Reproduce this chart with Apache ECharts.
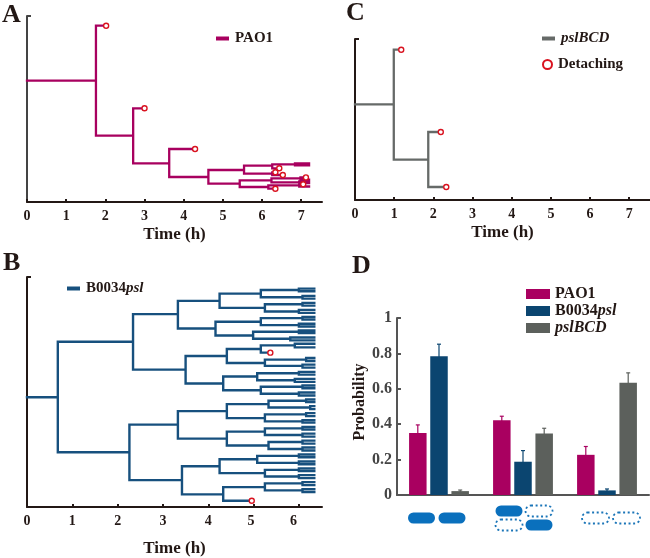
<!DOCTYPE html>
<html>
<head>
<meta charset="utf-8">
<style>
  html, body { margin: 0; padding: 0; background: #fff; }
  #chart { width: 650px; height: 558px; }
</style>
</head>
<body>
<div id="chart"></div>
<script src="https://cdn.jsdelivr.net/npm/echarts@6/dist/echarts.min.js"></script>
<script>
    // lineage trees: [division or end time (h), lineage position, ...daughters]
    var treeA = [1.76, 121.3,
      [2.02, 176.3],
      [2.71, 66.3,
        [3.0, 93.7],
        [3.63, 38.7,
          [4.29, 53],
          [4.63, 25,
            [5.54, 32,
              [6.26, 36.3,
                [6.84, 37.7, [7.2, 38.7], [7.2, 36.7]],
                [6.44, 33.7]],
              [6.26, 28.3, [6.34, 29.7], [6.53, 27]]],
            [5.43, 18.3,
              [6.24, 21.7,
                [6.98, 23.7, [7.12, 24.6], [7.2, 22.4]],
                [6.95, 19.7, [7.2, 20.6], [7.2, 18.8]]],
              [6.16, 15,
                [6.95, 16.7, [7.05, 17.7], [7.2, 15.5]],
                [6.34, 13.3]]]]]]];

    var treeB = [0.68, 110.3,
      [2.34, 166,
        [3.33, 193.7,
          [4.25, 207,
            [5.16, 214.3,
              [6.0, 218, [6.34, 219.3], [6.34, 216.7]],
              [6.08, 210.7, [6.34, 212], [6.34, 209.3]]],
            [5.25, 200,
              [6.08, 203.7, [6.34, 205], [6.34, 202.3]],
              [6.0, 196.3, [6.34, 198], [6.34, 195]]]],
          [4.16, 179.3,
            [5.16, 186,
              [6.08, 189.7, [6.34, 191], [6.34, 188.3]],
              [6.0, 182.7, [6.34, 184], [6.34, 181.3]]],
            [4.99, 172.3,
              [6.0, 176, [6.34, 177.3], [6.34, 174.7]],
              [5.81, 169, [6.34, 170.3], [6.34, 167.3]]]]],
        [3.5, 138,
          [4.41, 151.7,
            [5.16, 158.7,
              [5.91, 162.3, [6.34, 164], [6.34, 160.3]],
              [5.37, 155]],
            [5.25, 144.7,
              [6.16, 148, [6.34, 149.7], [6.34, 146.7]],
              [6.08, 141.7, [6.34, 143], [6.34, 140]]]],
          [4.33, 124,
            [5.08, 131,
              [6.0, 134.3, [6.34, 135.7], [6.34, 133]],
              [5.91, 127.3, [6.34, 128.7], [6.34, 125.7]]],
            [5.16, 117.3,
              [6.08, 120.7, [6.34, 122], [6.34, 119.3]],
              [6.0, 113.7, [6.34, 115], [6.34, 112]]]]]],
      [2.26, 55,
        [3.33, 82.7,
          [4.41, 96.3,
            [5.33, 103.3,
              [6.16, 106.7, [6.34, 108], [6.34, 105.3]],
              [6.25, 100, [6.34, 101.3], [6.34, 98.3]]],
            [5.25, 89.3,
              [6.16, 93, [6.34, 94.3], [6.34, 91.3]],
              [6.08, 86, [6.34, 87.3], [6.34, 84.7]]]],
          [4.41, 68.7,
            [5.25, 75.7,
              [6.08, 79, [6.34, 80.3], [6.34, 77.7]],
              [6.08, 72.3, [6.34, 73.7], [6.34, 70.7]]],
            [5.33, 61.7,
              [6.08, 65.3, [6.34, 66.7], [6.34, 63.7]],
              [6.08, 58.3, [6.34, 59.7], [6.34, 56.7]]]]],
        [3.42, 27,
          [4.25, 41,
            [5.08, 48,
              [6.0, 51.3, [6.34, 52.7], [6.34, 50]],
              [6.0, 44.3, [6.34, 45.7], [6.34, 43]]],
            [5.25, 34,
              [6.0, 37.3, [6.34, 38.7], [6.34, 36]],
              [6.0, 30.7, [6.34, 32], [6.34, 29]]]],
          [4.33, 12.7,
            [5.25, 20,
              [6.08, 23.7, [6.34, 25], [6.34, 22]],
              [6.08, 16.7, [6.34, 18], [6.34, 15]]],
            [4.96, 6.3]]]]];

    var treeC = [0.99, 95.7,
      [1.18, 150.3],
      [1.87, 40.3,
        [2.19, 68],
        [2.33, 13]]];

    // detaching events: [time (h), lineage position]
    var detachA = [[2.02, 176.3], [3.0, 93.7], [4.29, 53], [6.44, 33.7], [6.34, 29.7], [6.53, 27], [7.12, 24.6], [7.05, 17.7], [6.34, 13.3]];
    var detachB = [[5.37, 155], [4.96, 6.3]];
    var detachC = [[1.18, 150.3], [2.19, 68], [2.33, 13]];

    var hoursA = [0, 1, 2, 3, 4, 5, 6, 7];
    var hoursB = [0, 1, 2, 3, 4, 5, 6];

    // panel D
    var outcomes = ['both attached', 'one detached', 'both detached'];
    var strains = ['PAO1', 'B0034psl', 'pslBCD'];
    var probPAO1 = [0.35, 0.422, 0.227];
    var probB0034 = [0.784, 0.188, 0.026];
    var probBCD = [0.022, 0.347, 0.634];
    var topPAO1 = [0.396, 0.445, 0.274];
    var topB0034 = [0.852, 0.251, 0.034];
    var topBCD = [0.028, 0.377, 0.69];

    var serif = '"Liberation Serif", serif';
    var magenta = '#a8005f', navy = '#17507e', grey = '#666a68';
    var barColors = ['#a90060', '#0b4570', '#5c605c'];

    initChart();

    function walk(node, start, out) {
      var end = node[0], y = node[1], kids = node.slice(2);
      out.push([start, y], [end, y], [null, null]);
      if (kids.length) {
        out.push([end, kids[0][1]], [end, kids[kids.length - 1][1]], [null, null]);
        kids.forEach(function (k) { walk(k, end, out); });
      }
      return out;
    }

    function treeSeries(name, tree, color, index, width) {
      return {
        name: name,
        type: 'line',
        xAxisIndex: index,
        yAxisIndex: index,
        data: walk(tree, 0, []),
        symbol: 'none',
        connectNulls: false,
        animation: false,
        itemStyle: { color: color },
        lineStyle: { color: color, width: width, cap: 'square', join: 'miter' },
        z: 2
      };
    }

    function detachSeries(data, index) {
      return {
        name: 'Detaching',
        type: 'scatter',
        xAxisIndex: index,
        yAxisIndex: index,
        data: data,
        symbol: 'circle',
        symbolSize: 5,
        animation: false,
        itemStyle: { color: '#fff', borderColor: '#d9121f', borderWidth: 1.4, opacity: 1 },
        z: 3
      };
    }

    function timeAxis(index, max, hours, nameGap, labels) {
      return {
        type: 'value',
        gridIndex: index,
        min: 0,
        max: max,
        interval: 1,
        name: 'Time (h)',
        nameLocation: 'middle',
        nameGap: nameGap,
        nameTextStyle: { fontFamily: serif, fontWeight: 'bold', fontSize: 17, color: '#231815' },
        axisLine: { show: true, onZero: false, lineStyle: { color: '#231815', width: 2 } },
        axisTick: { show: true, inside: true, length: 3, customValues: hours, lineStyle: { color: '#231815', width: 2 } },
        axisLabel: Object.assign({ show: true, customValues: hours, margin: 7, fontFamily: serif, fontWeight: 'bold', fontSize: 14, color: '#231815' }, labels),
        splitLine: { show: false }
      };
    }

    function positionAxis(index, max, color) {
      return {
        type: 'value',
        gridIndex: index,
        min: 0,
        max: max,
        interval: max,
        axisLine: { show: true, onZero: false, lineStyle: { color: color, width: 2 } },
        axisTick: { show: true, inside: true, length: 4, customValues: [max], lineStyle: { color: color, width: 2 } },
        axisLabel: { show: false },
        splitLine: { show: false }
      };
    }

    function lineLegend(name, left, top) {
      return {
        data: [name],
        left: left,
        top: top,
        padding: 0,
        icon: 'rect',
        itemWidth: 13,
        itemHeight: 4,
        selectedMode: false,
        formatter: legendText,
        textStyle: legendStyle(15, 1)
      };
    }

    function legendText(name) {
      return name.replace(/psl(BCD)?/, '{i|$&}');
    }

    function legendStyle(size, gap) {
      return {
        fontFamily: serif,
        fontWeight: 'bold',
        fontSize: size,
        color: '#231815',
        padding: [0, 0, 0, gap],
        rich: { i: { fontFamily: serif, fontWeight: 'bold', fontStyle: 'italic', fontSize: size, color: '#231815' } }
      };
    }

    function barSeries(name, values, color) {
      return {
        name: name,
        type: 'bar',
        xAxisIndex: 3,
        yAxisIndex: 3,
        data: values,
        barWidth: 17.5,
        barGap: '21%',
        animation: false,
        itemStyle: { color: color },
        z: 2
      };
    }

    // upper error bar only, shifted onto its bar
    function errorSeries(name, tops, color, slot) {
      return {
        name: name + ' error',
        type: 'custom',
        xAxisIndex: 3,
        yAxisIndex: 3,
        data: tops.map(function (v, i) { return [i, v]; }),
        animation: false,
        z: 1,
        renderItem: function (params, api) {
          var top = api.coord([api.value(0), api.value(1)]);
          var base = api.coord([api.value(0), 0]);
          var x = top[0] + slot * 21.2;
          var style = { stroke: color, lineWidth: 1.2, fill: null };
          return {
            type: 'group',
            children: [
              { type: 'line', shape: { x1: x, y1: top[1], x2: x, y2: base[1] }, style: style },
              { type: 'line', shape: { x1: x - 2, y1: top[1], x2: x + 2, y2: top[1] }, style: style }
            ]
          };
        }
      };
    }

    function panelLabel(text, x, y) {
      return {
        type: 'text',
        left: x,
        top: y,
        style: { text: text, fontFamily: serif, fontWeight: 'bold', fontSize: 26, fill: '#231815' }
      };
    }

    function cell(x, y, dotted) {
      var shape = { x: x, y: y, width: 27, height: 11, r: 5.5 };
      if (dotted) {
        return {
          type: 'rect',
          shape: shape,
          style: { fill: '#fff', stroke: '#1a75b8', lineWidth: 1.8, lineDash: [2, 2.6] }
        };
      }
      return { type: 'rect', shape: shape, style: { fill: '#0a70bd' } };
    }

    function initChart() {
      var myChart = echarts.init(document.getElementById('chart'), null, { renderer: 'canvas' });

      var option = {
        backgroundColor: '#fff',
        animation: false,
        grid: [
          { left: 27, top: 16, width: 295, height: 186 },
          { left: 27, top: 277, width: 295, height: 231 },
          { left: 355, top: 39, width: 295, height: 161 },
          { left: 397, top: 318, width: 252, height: 177 }
        ],
        xAxis: [
          timeAxis(0, 7.53, hoursA, 24),
          // the 5 and 6 sit left of their ticks in the original
          timeAxis(1, 6.51, hoursB, 33, {
            formatter: function (v) { return v === 6 ? '{far|6}' : v === 5 ? '{near|5}' : String(v); },
            rich: {
              far: { padding: [0, 11, 0, 0], fontFamily: serif, fontWeight: 'bold', fontSize: 14, color: '#231815' },
              near: { padding: [0, 5, 0, 0], fontFamily: serif, fontWeight: 'bold', fontSize: 14, color: '#231815' }
            }
          }),
          timeAxis(2, 7.53, hoursA, 24),
          {
            type: 'category',
            gridIndex: 3,
            data: outcomes,
            axisLine: { show: true, onZero: false, lineStyle: { color: '#555', width: 2 } },
            axisTick: { show: false },
            axisLabel: { show: false }
          }
        ],
        yAxis: [
          positionAxis(0, 186, '#444'),
          positionAxis(1, 231, '#231815'),
          positionAxis(2, 161, '#231815'),
          {
            type: 'value',
            gridIndex: 3,
            min: 0,
            max: 1,
            interval: 0.2,
            name: 'Probability',
            nameLocation: 'middle',
            nameGap: 26,
            nameTextStyle: { fontFamily: serif, fontWeight: 'bold', fontSize: 16, color: '#231815', padding: [0, 0, 0, 9] },
            axisLine: { show: true, onZero: false, lineStyle: { color: '#555', width: 2 } },
            axisTick: { show: true, inside: true, length: 4, lineStyle: { color: '#555', width: 2 } },
            axisLabel: { margin: 5, fontFamily: serif, fontWeight: 'bold', fontSize: 16, color: '#444' },
            splitLine: { show: false }
          }
        ],
        legend: [
          lineLegend('PAO1', 216, 31),
          lineLegend('B0034psl', 67, 281),
          lineLegend('pslBCD', 542, 31),
          {
            data: ['Detaching'],
            left: 542,
            top: 57,
            padding: 0,
            icon: 'circle',
            itemWidth: 9,
            itemHeight: 9,
            selectedMode: false,
            itemStyle: { color: '#fff', borderColor: '#d9121f', borderWidth: 2 },
            textStyle: legendStyle(15, 1)
          },
          {
            data: strains.map(function (s, i) {
              return { name: s, itemStyle: { color: barColors[i] } };
            }),
            orient: 'vertical',
            left: 526,
            top: 286,
            padding: 0,
            icon: 'rect',
            itemWidth: 24,
            itemHeight: 10,
            itemGap: 1,
            selectedMode: false,
            formatter: legendText,
            textStyle: legendStyle(16, 0)
          }
        ],
        series: [
          treeSeries('PAO1', treeA, magenta, 0, 2.3),
          detachSeries(detachA, 0),
          treeSeries('B0034psl', treeB, navy, 1, 2.4),
          detachSeries(detachB, 1),
          treeSeries('pslBCD', treeC, grey, 2, 2.3),
          detachSeries(detachC, 2),
          barSeries(strains[0], probPAO1, barColors[0]),
          barSeries(strains[1], probB0034, barColors[1]),
          barSeries(strains[2], probBCD, barColors[2]),
          errorSeries(strains[0], topPAO1, barColors[0], -1),
          errorSeries(strains[1], topB0034, barColors[1], 0),
          errorSeries(strains[2], topBCD, barColors[2], 1)
        ],
        graphic: [
          panelLabel('A', 2, 2),
          panelLabel('B', 3, 250),
          panelLabel('C', 346, 0),
          panelLabel('D', 352, 253),
          cell(408, 512.5, false),
          cell(438.5, 512.5, false),
          cell(495.5, 505.5, false),
          cell(525.5, 505.5, true),
          cell(495.5, 519.5, true),
          cell(525.5, 519.5, false),
          cell(582, 512.5, true),
          cell(613, 512.5, true)
        ]
      };

      option && myChart.setOption(option);
    }
</script>
</body>
</html>
